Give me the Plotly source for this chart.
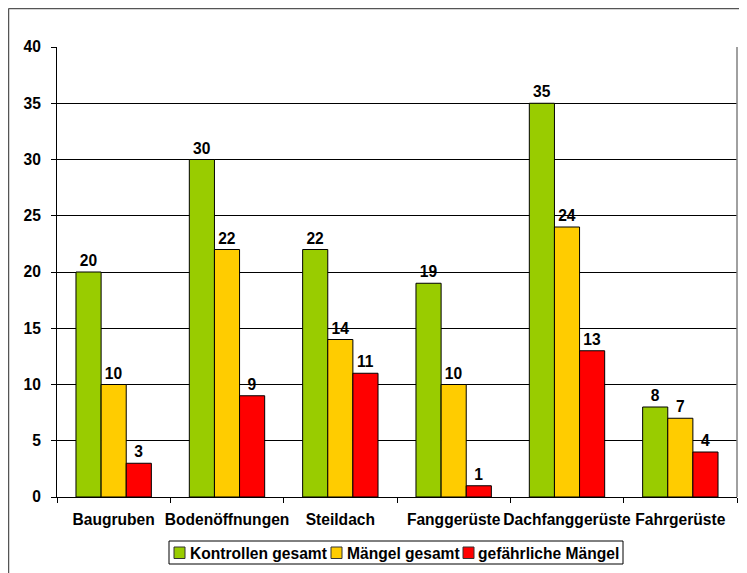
import plotly.graph_objects as go

categories = ["Baugruben", "Bodenöffnungen", "Steildach", "Fanggerüste", "Dachfanggerüste", "Fahrgerüste"]
kontrollen = [20, 30, 22, 19, 35, 8]
maengel = [10, 22, 14, 10, 24, 7]
gefaehrlich = [3, 9, 11, 1, 13, 4]
y_ticks = [0, 5, 10, 15, 20, 25, 30, 35, 40]
series_names = ["Kontrollen gesamt", "Mängel gesamt", "gefährliche Mängel"]
series_colors = ["#99CC00", "#FFCC00", "#FF0000"]

FONT = "Liberation Sans, Arial, sans-serif"
FS = 15.6

fig = go.Figure()
for name, vals, col in zip(series_names, [kontrollen, maengel, gefaehrlich], series_colors):
    fig.add_trace(go.Bar(
        x=categories, y=vals, name=name, showlegend=False,
        marker=dict(color=col, line=dict(color="#000000", width=1)),
        text=[str(v) for v in vals], textposition="outside",
        textfont=dict(family=FONT, size=FS, color="#000000", weight="bold"),
        cliponaxis=False,
    ))

# page body has an 8px margin, so the figure is offset by 8px
OFF = 8
W, H = 747 - OFF, 573 - OFF
plot_l, plot_r, plot_t, plot_b = 57, 737, 47, 497  # in screenshot pixels
ml = plot_l - OFF
mr = W - (plot_r - OFF)
mt = plot_t - OFF
mb = H - (plot_b - OFF)
pw = W - ml - mr
ph = H - mt - mb

def px_x(x):
    return (x - OFF - ml) / pw

def px_y(y):
    return (H - mb - (y - OFF)) / ph

shapes = [
    # right border of plot area
    dict(type="line", xref="paper", yref="paper", x0=1, x1=1, y0=0, y1=1,
         line=dict(color="#808080", width=1.5)),
    # outer chart border (left and top)
    dict(type="line", xref="paper", yref="paper", x0=px_x(8.5), x1=px_x(8.5),
         y0=px_y(8.5), y1=px_y(580), line=dict(color="#555555", width=1.5)),
    dict(type="line", xref="paper", yref="paper", x0=px_x(8.5), x1=px_x(760),
         y0=px_y(8.5), y1=px_y(8.5), line=dict(color="#555555", width=1.5)),
    # legend box
    dict(type="rect", xref="paper", yref="paper", x0=px_x(169), x1=px_x(623),
         y0=px_y(541), y1=px_y(564), line=dict(color="#000000", width=1),
         fillcolor="white", layer="above"),
]
annotations = []

legend_icon_x = [174, 331, 463]
legend_text_x = [188, 345, 476]
for name, col, ix, tx in zip(series_names, series_colors, legend_icon_x, legend_text_x):
    shapes.append(dict(type="rect", xref="paper", yref="paper",
                       x0=px_x(ix), x1=px_x(ix + 11), y0=px_y(547), y1=px_y(558.5),
                       fillcolor=col, line=dict(color="#333333", width=1), layer="above"))
    annotations.append(dict(xref="paper", yref="paper", x=px_x(tx), y=px_y(553),
                            xanchor="left", yanchor="middle", showarrow=False, text=name,
                            font=dict(family=FONT, size=FS, color="#000000", weight="bold")))

fig.update_layout(
    width=W, height=H,
    margin=dict(l=ml, r=mr, t=mt, b=mb, autoexpand=False),
    paper_bgcolor="white", plot_bgcolor="white",
    barmode="group", bargap=0.335, bargroupgap=0,
    font=dict(family=FONT, size=FS, color="#000000", weight="bold"),
    showlegend=False,
    xaxis=dict(
        showgrid=False, showline=True, linecolor="#000000", linewidth=1,
        ticks="outside", tickson="boundaries", ticklen=5, tickcolor="#000000",
        ticklabelstandoff=8, tickangle=0, automargin=False,
        tickfont=dict(family=FONT, size=FS, color="#000000", weight="bold"),
    ),
    yaxis=dict(
        range=[0, 40], tickvals=y_ticks, showgrid=True, gridcolor="#000000", gridwidth=1,
        showline=True, linecolor="#000000", linewidth=1, zeroline=False,
        ticks="outside", ticklen=5, tickcolor="#000000", ticklabelstandoff=7,
        automargin=False,
        tickfont=dict(family=FONT, size=FS, color="#000000", weight="bold"),
    ),
    shapes=shapes,
    annotations=annotations,
)

fig.write_html("out.html")
